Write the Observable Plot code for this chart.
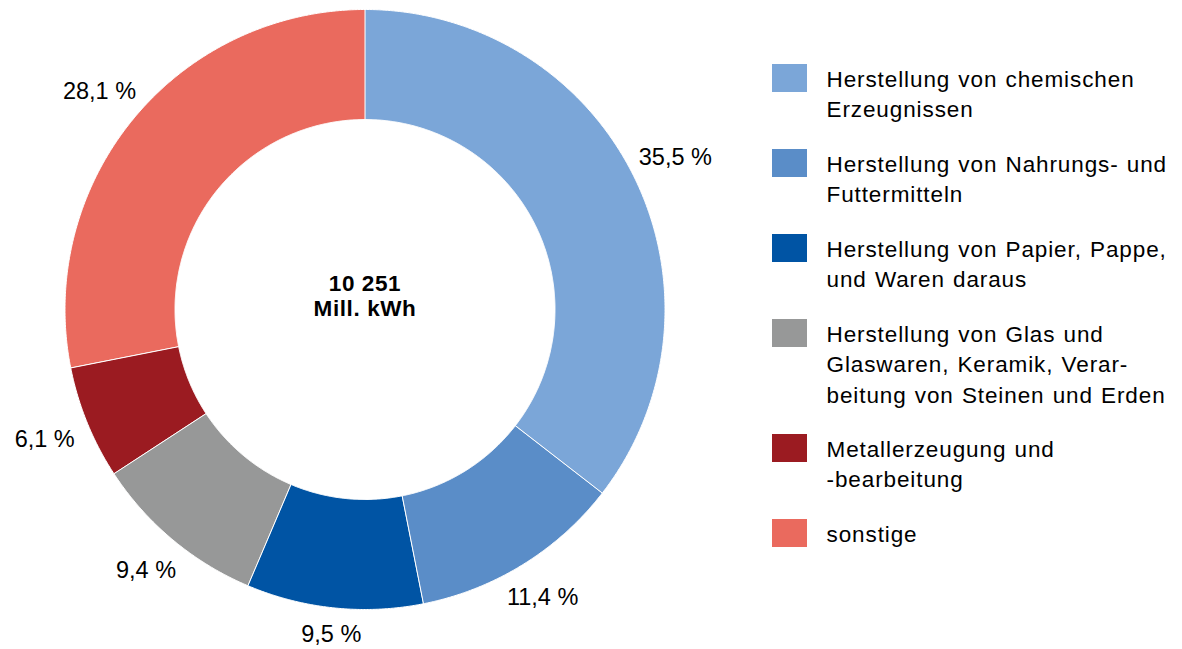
<!DOCTYPE html>
<html><head><meta charset="utf-8">
<script src="https://cdn.jsdelivr.net/npm/d3@7"></script>
<script src="https://cdn.jsdelivr.net/npm/@observablehq/plot@0.6"></script>
<style>html,body{margin:0;padding:0;background:#fff;}</style>
</head><body><div id="chart"></div>
<script>
// ---- data ----
const categories = [
  "Herstellung von chemischen Erzeugnissen",
  "Herstellung von Nahrungs- und Futtermitteln",
  "Herstellung von Papier, Pappe, und Waren daraus",
  "Herstellung von Glas und Glaswaren, Keramik, Verarbeitung von Steinen und Erden",
  "Metallerzeugung und -bearbeitung",
  "sonstige"
];
const legendLabels = [
  "Herstellung von chemischen\nErzeugnissen",
  "Herstellung von Nahrungs- und\nFuttermitteln",
  "Herstellung von Papier, Pappe,\nund Waren daraus",
  "Herstellung von Glas und\nGlaswaren, Keramik, Verar-\nbeitung von Steinen und Erden",
  "Metallerzeugung und\n-bearbeitung",
  "sonstige"
];
const shares = [35.5, 11.4, 9.5, 9.4, 6.1, 28.1];
const colors = ["#7ba6d8", "#5a8dc8", "#0054a4", "#979898", "#9b1b21", "#ea6a5e"];
const totalValue = "10 251";
const totalUnit = "Mill. kWh";

// ---- layout ----
const W = 1182, H = 649;
const CX = 364.5, CY = 309, R_OUT = 300, R_IN = 190;
const FONT = "'Liberation Sans', Arial, Helvetica, sans-serif";

const total = d3.sum(shares);
const slices = [];
const labels = [];
let cum = 0;
shares.forEach((v, i) => {
  const a0 = cum / total * 2 * Math.PI;
  cum += v;
  const a1 = cum / total * 2 * Math.PI;
  const n = Math.max(2, Math.ceil((a1 - a0) / 0.005));
  for (let k = 0; k <= n; k++) {
    const a = a0 + (a1 - a0) * k / n;
    slices.push({cat: categories[i], x: CX + R_OUT * Math.sin(a), y: CY - R_OUT * Math.cos(a)});
  }
  for (let k = n; k >= 0; k--) {
    const a = a0 + (a1 - a0) * k / n;
    slices.push({cat: categories[i], x: CX + R_IN * Math.sin(a), y: CY - R_IN * Math.cos(a)});
  }
  const am = (a0 + a1) / 2;
  const s = Math.sin(am), c = Math.cos(am);
  const rl = 312 + Math.abs(s) * 32 + Math.abs(c) * 11;
  labels.push({
    x: CX + rl * s,
    y: CY - rl * c,
    t: v.toFixed(1).replace(".", ",") + " %"
  });
});

// legend layout
const legendRows = [];
let rowTop = 64;
legendLabels.forEach((l, i) => {
  const nLines = l.split("\n").length;
  legendRows.push({cat: categories[i], label: l, y1: rowTop, y2: rowTop + 28, ty: rowTop + 0.5});
  rowTop += 25 + 30 * nLines;
});

const chart = Plot.plot({
  width: W,
  height: H,
  margin: 0,
  style: {fontFamily: FONT, background: "#fff"},
  x: {domain: [0, W], range: [0, W], axis: null},
  y: {domain: [0, H], range: [0, H], axis: null},
  color: {domain: categories, range: colors},
  marks: [
    Plot.line(slices, {x: "x", y: "y", z: "cat", fill: "cat", stroke: "#fff", strokeWidth: 1, curve: "linear-closed"}),
    Plot.text(labels, {x: "x", y: "y", text: "t", fontSize: 23.5, fill: "#000", textAnchor: "middle", lineAnchor: "middle"}),
    Plot.text([totalValue + "\n" + totalUnit], {x: () => CX, y: () => CY - 14, text: d => d, fontSize: 22.5, fontWeight: "bold", fill: "#000", lineHeight: 1.1, textAnchor: "middle", lineAnchor: "middle"}),
    Plot.rect(legendRows, {x1: () => 772, x2: () => 807, y1: "y1", y2: "y2", fill: "cat"}),
    Plot.text(legendRows, {x: () => 826, y: "ty", text: "label", fontSize: 22.5, fill: "#000", textAnchor: "start", lineAnchor: "top", lineHeight: 1.355})
  ]
});

const textGroups = d3.select(chart).selectAll('g[aria-label="text"]').nodes();
// order: percentage labels, center text, legend text
d3.select(textGroups[1]).selectAll("text").style("letter-spacing", "0.6px");
d3.select(textGroups[2]).selectAll("text").style("letter-spacing", "0.9px").style("word-spacing", "1px");
document.getElementById("chart").appendChild(chart);
</script>
</body></html>
